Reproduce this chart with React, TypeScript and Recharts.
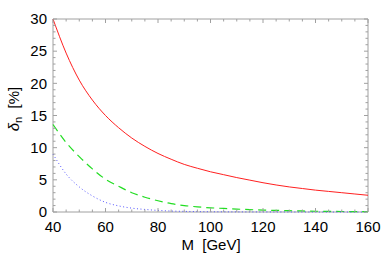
import React from 'react';
import { LineChart, Line, XAxis, YAxis, ReferenceArea } from 'recharts';

const masses = [40, 45, 50, 55, 60, 65, 70, 75, 80, 85, 90, 95, 100, 105, 110, 115, 120, 125, 130, 135, 140, 145, 150, 155, 160];
const redDelta = [30, 24.7, 20.5, 17.4, 15.0, 13.1, 11.5, 10.2, 9.1, 8.2, 7.4, 6.8, 6.25, 5.8, 5.35, 4.95, 4.55, 4.2, 3.9, 3.65, 3.4, 3.2, 3.0, 2.8, 2.6];
const greenDelta = [13.6, 10.8, 8.6, 6.7, 5.1, 4.0, 3.0, 2.3, 1.75, 1.3, 1.0, 0.8, 0.65, 0.55, 0.45, 0.37, 0.3, 0.25, 0.2, 0.16, 0.12, 0.1, 0.08, 0.06, 0.05];
const blueDelta = [9.0, 5.9, 3.9, 2.5, 1.5, 0.95, 0.6, 0.4, 0.25, 0.15, 0.1, 0.06, 0.04, 0.03, 0.02, 0.015, 0.01, 0.008, 0.005, 0.003, 0, 0, 0, 0, 0];

const xTicks = [40, 45, 50, 55, 60, 65, 70, 75, 80, 85, 90, 95, 100, 105, 110, 115, 120, 125, 130, 135, 140, 145, 150, 155, 160];
const xLabelTicks = [40, 60, 80, 100, 120, 140, 160];
const yTicks = [0, 1, 2, 3, 4, 5, 6, 7, 8, 9, 10, 11, 12, 13, 14, 15, 16, 17, 18, 19, 20, 21, 22, 23, 24, 25, 26, 27, 28, 29, 30];
const yLabelTicks = [0, 5, 10, 15, 20, 25, 30];

const data = masses.map((m, i) => ({ m, red: redDelta[i], green: greenDelta[i], blue: blueDelta[i] }));

const W = 388;
const H = 262;
const PLOT_L = 53;
const PLOT_R = 368;
const PLOT_T = 19;
const PLOT_B = 212;
const FRAME = '#a0a0a0';
const FONT = '"Liberation Sans", Arial, Helvetica, sans-serif';
const FS = 15;

const XTick = (props: any) => {
  const { x, payload } = props;
  const v = payload.value;
  const major = xLabelTicks.includes(v);
  const len = major ? 4 : 2.5;
  return (
    <g>
      <line x1={x} x2={x} y1={PLOT_B} y2={PLOT_B - len} stroke={FRAME} strokeWidth={1} />
      <line x1={x} x2={x} y1={PLOT_T} y2={PLOT_T + len} stroke={FRAME} strokeWidth={1} />
      {major && (
        <text x={x} y={PLOT_B + 20} textAnchor="middle" fontFamily={FONT} fontSize={FS} fill="#000">
          {v}
        </text>
      )}
    </g>
  );
};

const YTick = (props: any) => {
  const { y, payload } = props;
  const v = payload.value;
  const major = yLabelTicks.includes(v);
  const len = major ? 4 : 2.5;
  return (
    <g>
      <line x1={PLOT_L} x2={PLOT_L + len} y1={y} y2={y} stroke={FRAME} strokeWidth={1} />
      <line x1={PLOT_R} x2={PLOT_R - len} y1={y} y2={y} stroke={FRAME} strokeWidth={1} />
      {major && (
        <text x={PLOT_L - 6} y={y + 5.3} textAnchor="end" fontFamily={FONT} fontSize={FS} fill="#000">
          {v}
        </text>
      )}
    </g>
  );
};

const XLabel = () => (
  <text x={211} y={250} textAnchor="middle" fontFamily={FONT} fontSize={FS} fill="#000" style={{ whiteSpace: 'pre' }}>
    {'M  [GeV]'}
  </text>
);

const YLabel = () => (
  <text
    transform="translate(19,109) rotate(-90)"
    textAnchor="middle"
    fontFamily={FONT}
    fontSize={FS}
    fill="#000"
    style={{ whiteSpace: 'pre' }}
  >
    <tspan fontStyle="italic">δ</tspan>
    <tspan fontSize={11} dy={3}>n</tspan>
    <tspan dy={-3}>{'  [%]'}</tspan>
  </text>
);

export default function App() {
  return (
    <div style={{ position: 'absolute', left: 0, top: 0, width: W, height: H, background: '#fff' }}>
      <LineChart
        width={W}
        height={H}
        data={data}
        margin={{ top: PLOT_T, right: W - PLOT_R, bottom: 0, left: 0 }}
      >
        <XAxis
          dataKey="m"
          type="number"
          domain={[40, 160]}
          ticks={xTicks}
          interval={0}
          tick={<XTick />}
          tickLine={false}
          axisLine={false}
          height={H - PLOT_B}
          label={<XLabel />}
        />
        <YAxis
          type="number"
          domain={[0, 30]}
          ticks={yTicks}
          interval={0}
          tick={<YTick />}
          tickLine={false}
          axisLine={false}
          width={PLOT_L}
          label={<YLabel />}
        />
        <ReferenceArea x1={40} x2={160} y1={0} y2={30} fill="none" stroke={FRAME} strokeWidth={1} />
        <Line type="monotone" dataKey="red" stroke="#ff2020" strokeWidth={1} dot={false} isAnimationActive={false} />
        <Line type="monotone" dataKey="green" stroke="#22dd22" strokeWidth={1.2} strokeDasharray="8 5" dot={false} isAnimationActive={false} />
        <Line type="monotone" dataKey="blue" stroke="#5555ff" strokeWidth={1} strokeDasharray="1 2.5" dot={false} isAnimationActive={false} />
      </LineChart>
    </div>
  );
}
